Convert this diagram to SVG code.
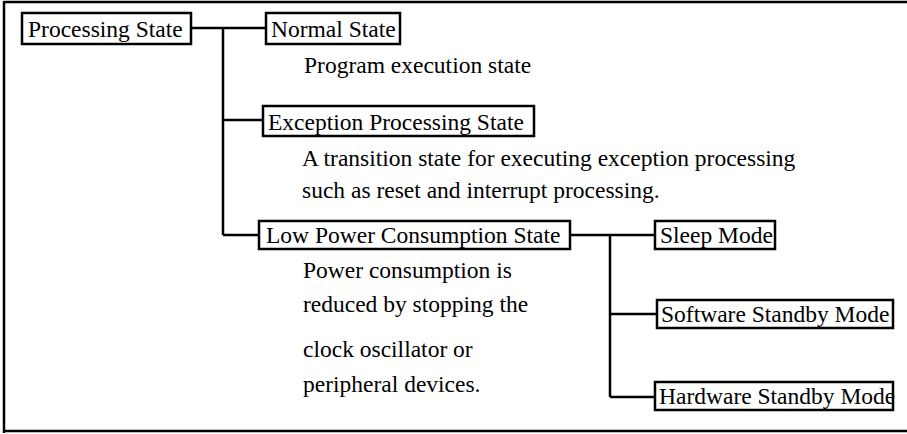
<svg xmlns="http://www.w3.org/2000/svg" width="907" height="434" viewBox="0 0 907 434">
<style>
  .bg { fill: #ffffff; }
  .frame { stroke: #000; stroke-width: 2.5; fill: none; }
  .box { fill: #fff; stroke: #000; stroke-width: 2.5; }
  .lbl { font-family: "Liberation Serif", "Times New Roman", serif; font-size: 23.5px; fill: #000; }
  .conn line { stroke: #000; stroke-width: 2.5; }
</style>
<rect class="bg" x="0" y="0" width="907" height="434"/>
<g id="frame">
  <line class="frame" x1="4" y1="2" x2="907" y2="2"/>
  <line class="frame" x1="4" y1="1" x2="4" y2="433"/>
  <line class="frame" x1="4" y1="431" x2="907" y2="431"/>
</g>
<g id="connectors" class="conn">
  <line x1="191" y1="28" x2="266" y2="28"/>
  <line x1="223" y1="28" x2="223" y2="235"/>
  <line x1="223" y1="120" x2="263" y2="120"/>
  <line x1="223" y1="235" x2="259" y2="235"/>
  <line x1="570" y1="235" x2="655" y2="235"/>
  <line x1="610" y1="235" x2="610" y2="397"/>
  <line x1="610" y1="314" x2="657" y2="314"/>
  <line x1="610" y1="397" x2="655" y2="397"/>
</g>
<g id="processing-state">
  <rect class="box" x="22" y="13" width="169" height="31"/>
  <text class="lbl" x="28" y="37">Processing State</text>
</g>
<g id="normal-state">
  <rect class="box" x="266" y="13" width="134" height="31"/>
  <text class="lbl" x="271" y="37">Normal State</text>
  <text class="lbl" x="304" y="73">Program execution state</text>
</g>
<g id="exception-state">
  <rect class="box" x="263" y="106" width="271" height="30"/>
  <text class="lbl" x="268" y="130">Exception Processing State</text>
  <text class="lbl" x="302" y="166">A transition state for executing exception processing</text>
  <text class="lbl" x="302" y="198">such as reset and interrupt processing.</text>
</g>
<g id="low-power-state">
  <rect class="box" x="259" y="221" width="311" height="28"/>
  <text class="lbl" x="266" y="243">Low Power Consumption State</text>
  <text class="lbl" x="303" y="278">Power consumption is</text>
  <text class="lbl" x="303" y="312">reduced by stopping the</text>
  <text class="lbl" x="303" y="357">clock oscillator or</text>
  <text class="lbl" x="303" y="392">peripheral devices.</text>
</g>
<g id="sleep-mode">
  <rect class="box" x="655" y="221" width="120" height="28"/>
  <text class="lbl" x="660" y="243">Sleep Mode</text>
</g>
<g id="software-standby">
  <rect class="box" x="657" y="300" width="236" height="28"/>
  <text class="lbl" x="661" y="322">Software Standby Mode</text>
</g>
<g id="hardware-standby">
  <rect class="box" x="655" y="382" width="238" height="28"/>
  <text class="lbl" x="659" y="404">Hardware Standby Mode</text>
</g>
</svg>
